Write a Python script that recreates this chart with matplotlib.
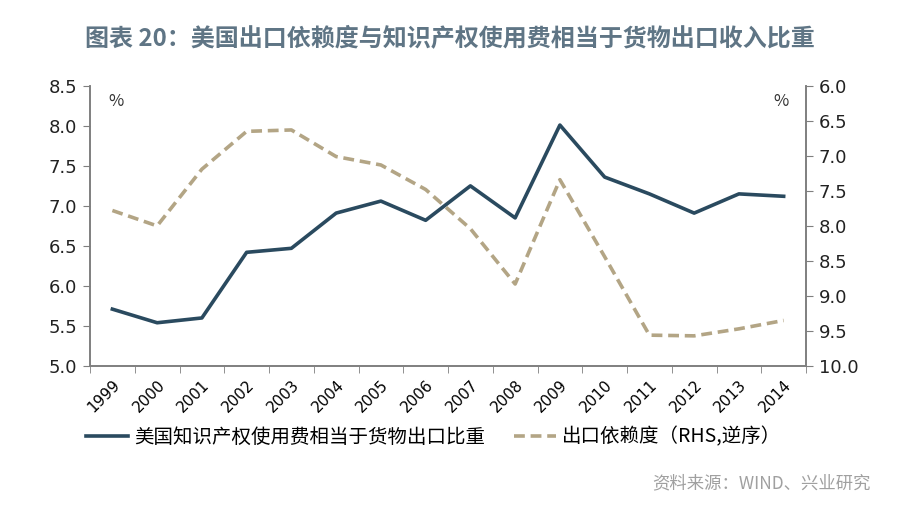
import numpy as np
import matplotlib.pyplot as plt
from matplotlib.ticker import FormatStrFormatter, FixedLocator

plt.rcParams['font.family'] = ['Noto Sans CJK SC', 'DejaVu Sans']

years = ['1999', '2000', '2001', '2002', '2003', '2004', '2005', '2006',
         '2007', '2008', '2009', '2010', '2011', '2012', '2013', '2014']
ip_share = [5.71, 5.54, 5.60, 6.42, 6.47, 6.91, 7.06, 6.82,
            7.25, 6.85, 8.01, 7.36, 7.15, 6.91, 7.15, 7.12]
export_dep = [7.78, 8.00, 7.19, 6.65, 6.63, 7.01, 7.13, 7.48,
              8.04, 8.83, 7.34, 8.44, 9.56, 9.57, 9.47, 9.35]

blue = '#2a4a5f'
tan = '#b3a585'
grey = '#7f7f7f'

fig = plt.figure(figsize=(9, 5.14), dpi=100)
ax1 = fig.add_axes([0.1, 0.288, 0.7956, 0.545])
ax2 = ax1.twinx()

x = np.arange(len(years))
ax1.plot(x, ip_share, color=blue, lw=2.6, zorder=3)
ax2.plot(x, export_dep, color=tan, lw=2.6, ls=(0, (3, 1.6)))

ax1.set_xlim(-0.5, len(years) - 0.5)
ax1.set_ylim(5.0, 8.5)
ax1.set_yticks(np.arange(5.0, 8.51, 0.5))
ax2.set_ylim(10.0, 6.0)
ax2.set_yticks(np.arange(6.0, 10.01, 0.5))
ax1.yaxis.set_major_formatter(FormatStrFormatter('%.1f'))
ax2.yaxis.set_major_formatter(FormatStrFormatter('%.1f'))

ax1.set_xticks(x)
ax1.set_xticklabels(years, rotation=45, ha='right', rotation_mode='anchor',
                    fontsize=11, family='DejaVu Sans')
ax1.tick_params(axis='x', length=0, pad=8)
ax1.xaxis.set_minor_locator(FixedLocator(np.arange(-0.5, len(years), 1)))
ax1.tick_params(axis='x', which='minor', length=5, color=grey)

for a in (ax1, ax2):
    a.spines['top'].set_visible(False)
    for s in ('left', 'right', 'bottom'):
        a.spines[s].set_color(grey)
        a.spines[s].set_linewidth(1.2)
    a.tick_params(axis='y', length=5, color=grey, labelsize=13, pad=4)
    for lab in a.get_yticklabels():
        lab.set_family('DejaVu Sans')
        lab.set_color('#222222')

ax1.text(0.025, 0.975, '%', transform=ax1.transAxes, fontsize=12,
         va='top', ha='left', color='#333333')
ax1.text(0.975, 0.975, '%', transform=ax1.transAxes, fontsize=12,
         va='top', ha='right', color='#333333')

fig.text(0.5, 0.926, '图表 20：美国出口依赖度与知识产权使用费相当于货物出口收入比重',
         ha='center', va='center', fontsize=17.3, color='#5f7585',
         weight='bold')

h1, = ax1.plot([], [], color=blue, lw=2.6)
h2, = ax1.plot([], [], color=tan, lw=2.6, ls=(0, (3, 1.6)))
fig.legend([h1, h2], ['美国知识产权使用费相当于货物出口比重', '出口依赖度（RHS,逆序）'],
           loc='center', bbox_to_anchor=(0.482, 0.15), ncol=2, frameon=False,
           fontsize=14, handlelength=2.15, handletextpad=0.3,
           columnspacing=1.5)

fig.text(0.967, 0.06, '资料来源：WIND、兴业研究', ha='right', va='center',
         fontsize=12.5, color='#a0a0a0')

fig.savefig('out.png', dpi=100)
